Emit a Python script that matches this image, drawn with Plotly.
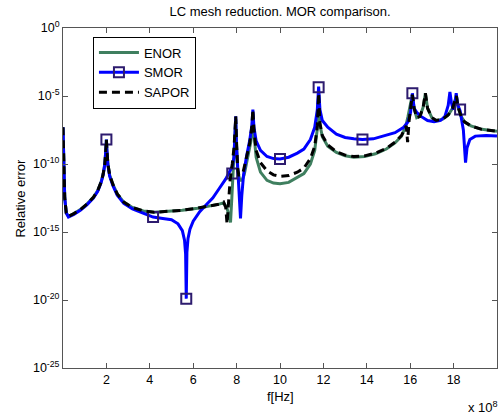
import plotly.graph_objects as go

# frequencies in units of 1e8 Hz, errors as log10(relative error)
f_smor = [0.0, 0.03, 0.08, 0.15, 0.25, 0.5, 0.8, 1.1, 1.4, 1.6, 1.75, 1.85, 1.93, 1.98, 2.0, 2.02, 2.07, 2.15, 2.3, 2.5,
          2.8, 3.2, 3.7, 4.15, 4.6, 5.0, 5.3, 5.5, 5.6, 5.65, 5.68, 5.71, 5.76, 5.85, 6.0, 6.3, 6.6, 6.9, 7.2, 7.5,
          7.7, 7.8, 7.88, 7.93, 7.96, 7.99, 8.05, 8.12, 8.18, 8.24, 8.32, 8.45, 8.6, 8.7, 8.75, 8.8, 8.9, 9.1, 9.4, 9.7,
          10.0, 10.4, 10.8, 11.1, 11.4, 11.6, 11.72, 11.78, 11.84, 11.95, 12.2, 12.6, 13.0, 13.4, 13.8, 14.3, 14.8, 15.3, 15.7, 15.9,
          16.02, 16.1, 16.18, 16.3, 16.5, 16.8, 17.1, 17.4, 17.6, 17.75, 17.83, 17.9, 17.98, 18.06, 18.12, 18.18, 18.3, 18.45, 18.55, 18.62,
          18.75, 19.0, 19.5, 20.0]
lg_smor = [-7.3, -10.0, -12.5, -13.6, -13.9, -13.7, -13.4, -13.0, -12.5, -12.0, -11.4, -10.8, -10.0, -8.8, -8.2, -8.9, -10.1, -10.9, -11.6, -12.3,
           -12.9, -13.3, -13.6, -13.9, -14.0, -14.1, -14.4, -14.9, -15.6, -16.6, -19.9, -16.5, -15.5, -14.8, -14.2, -13.5, -13.0, -12.5, -11.8, -11.1,
           -10.5, -10.2, -9.5, -8.0, -6.5, -8.5, -10.5, -12.5, -14.0, -12.3, -10.8, -9.5, -8.3, -7.2, -6.0, -7.3, -8.3, -9.0, -9.45, -9.6,
           -9.63, -9.5, -9.2, -8.9, -8.2, -7.3, -6.0, -4.3, -6.0, -6.8, -7.3, -7.8, -8.05, -8.15, -8.2, -8.15, -7.95, -7.7, -7.3, -6.9,
           -6.2, -4.8, -5.9, -6.2, -6.5, -6.8, -6.9, -6.8, -6.5, -5.7, -4.7, -5.5, -6.0, -5.6, -4.8, -5.6, -6.1, -7.5, -9.9, -8.8,
           -8.2, -7.95, -7.9, -7.95]

f_smor_mk = [2.0, 4.15, 5.68, 7.8, 10.0, 11.78, 13.8, 16.1, 18.3]
lg_smor_mk = [-8.2, -13.9, -19.9, -10.7, -9.63, -4.36, -8.2, -4.8, -6.0]

f_sapor = [0.0, 0.03, 0.08, 0.15, 0.25, 0.5, 0.8, 1.1, 1.4, 1.6, 1.75, 1.85, 1.93, 1.98, 2.0, 2.02, 2.07, 2.15, 2.3, 2.5,
           2.8, 3.2, 3.7, 4.2, 4.8, 5.5, 6.2, 6.8, 7.2, 7.4, 7.5, 7.56, 7.62, 7.7, 7.8, 7.88, 7.93, 7.96, 8.0, 8.05,
           8.1, 8.2, 8.3, 8.45, 8.6, 8.7, 8.75, 8.8, 8.9, 9.1, 9.4, 9.7, 10.0, 10.4, 10.8, 11.1, 11.4, 11.6, 11.72, 11.78,
           11.84, 11.95, 12.2, 12.6, 13.0, 13.4, 13.9, 14.4, 14.9, 15.3, 15.6, 15.82, 15.88, 15.95, 16.05, 16.1, 16.18, 16.3, 16.45, 16.6,
           16.7, 16.8, 17.0, 17.2, 17.5, 17.75, 17.95, 18.08, 18.13, 18.2, 18.35, 18.5, 18.8, 19.3, 20.0]
lg_sapor = [-7.3, -10.0, -12.5, -13.6, -13.85, -13.65, -13.35, -12.95, -12.45, -11.95, -11.35, -10.75, -9.95, -8.8, -8.2, -8.9, -10.0, -10.8, -11.5, -12.2,
            -12.8, -13.2, -13.45, -13.55, -13.5, -13.4, -13.25, -13.1, -12.95, -12.8, -13.2, -14.4, -12.8, -11.2, -10.0, -8.8, -7.5, -6.5, -8.5, -10.3,
            -10.8, -10.8, -10.6, -9.6, -8.5, -7.3, -6.0, -7.5, -9.0, -9.9, -10.5, -10.8, -10.9, -10.85, -10.6, -10.3, -9.6, -8.7, -7.2, -4.8,
            -7.0, -7.9, -8.6, -9.1, -9.35, -9.45, -9.4, -9.2, -8.85, -8.4, -7.9, -7.2, -8.4, -6.8, -5.6, -4.9, -5.9, -6.6, -6.5, -5.8,
            -4.8, -5.9, -6.6, -6.8, -6.7, -6.4, -5.9, -5.3, -5.0, -5.8, -6.5, -6.9, -7.2, -7.45, -7.6]

f_enor = [0.0, 0.03, 0.08, 0.15, 0.25, 0.5, 0.8, 1.1, 1.4, 1.6, 1.75, 1.85, 1.93, 1.98, 2.0, 2.02, 2.07, 2.15, 2.3, 2.5,
          2.8, 3.2, 3.7, 4.2, 4.8, 5.5, 6.2, 6.8, 7.2, 7.4, 7.55, 7.65, 7.72, 7.78, 7.85, 7.92, 7.96, 8.0, 8.05, 8.15,
          8.25, 8.35, 8.5, 8.65, 8.72, 8.75, 8.8, 8.9, 9.1, 9.4, 9.7, 10.0, 10.4, 10.8, 11.1, 11.4, 11.6, 11.72, 11.78, 11.84,
          11.95, 12.2, 12.6, 13.0, 13.4, 13.9, 14.4, 14.9, 15.3, 15.6, 15.8, 15.9, 16.0, 16.1, 16.18, 16.3, 16.45, 16.6, 16.7, 16.8,
          17.0, 17.2, 17.5, 17.75, 17.95, 18.08, 18.13, 18.2, 18.35, 18.5, 18.8, 19.3, 20.0]
lg_enor = [-7.3, -10.0, -12.5, -13.6, -13.85, -13.65, -13.35, -12.95, -12.45, -11.95, -11.35, -10.75, -9.95, -8.8, -8.2, -8.9, -10.0, -10.8, -11.5, -12.2,
           -12.8, -13.2, -13.45, -13.55, -13.5, -13.4, -13.25, -13.1, -12.95, -12.85, -13.2, -13.8, -14.3, -12.5, -10.5, -8.0, -6.7, -8.7, -10.5, -11.2,
           -11.2, -10.8, -9.7, -8.4, -7.5, -6.3, -7.8, -9.5, -10.6, -11.2, -11.4, -11.45, -11.35, -11.0, -10.7, -10.0, -9.0, -7.4, -4.9, -7.1,
           -8.0, -8.7, -9.15, -9.4, -9.5, -9.45, -9.25, -8.9, -8.45, -7.95, -7.2, -6.5, -5.8, -4.9, -5.9, -6.6, -6.5, -5.8, -4.8, -5.9,
           -6.6, -6.8, -6.7, -6.4, -5.9, -5.3, -5.0, -5.8, -6.5, -6.9, -7.2, -7.45, -7.6]

x_ticks = [2, 4, 6, 8, 10, 12, 14, 16, 18]
y_exps = [0, -5, -10, -15, -20, -25]

GREEN = "#3f7f5f"
BLUE = "#0000ff"
MK = "#2d1b6e"
FONT = "Liberation Sans"


def lin(vals):
    return [10 ** v for v in vals]


fig = go.Figure()
fig.add_trace(go.Scatter(x=f_enor, y=lin(lg_enor), mode="lines", name="ENOR",
                         line=dict(color=GREEN, width=3), showlegend=False))
fig.add_trace(go.Scatter(x=f_smor, y=lin(lg_smor), mode="lines", name="SMOR",
                         line=dict(color=BLUE, width=3), showlegend=False))
fig.add_trace(go.Scatter(x=f_smor_mk, y=lin(lg_smor_mk), mode="markers", name="SMOR",
                         marker=dict(symbol="square-open", size=10, color=MK, line=dict(width=2, color=MK)),
                         showlegend=False))
fig.add_trace(go.Scatter(x=f_sapor, y=lin(lg_sapor), mode="lines", name="SAPOR",
                         line=dict(color="black", width=3, dash="8px,5px"), showlegend=False))

# legend entries
fig.add_trace(go.Scatter(x=[None], y=[None], mode="lines", name="ENOR",
                         line=dict(color=GREEN, width=3)))
fig.add_trace(go.Scatter(x=[None], y=[None], mode="lines+markers", name="SMOR",
                         line=dict(color=BLUE, width=3),
                         marker=dict(symbol="square-open", size=10, color=MK, line=dict(width=2, color=MK))))
fig.add_trace(go.Scatter(x=[None], y=[None], mode="lines", name="SAPOR",
                         line=dict(color="black", width=3, dash="8px,5px")))

axis_common = dict(showgrid=False, zeroline=False, ticks="inside", ticklen=5, tickcolor="#555",
                   showline=True, linecolor="#555", linewidth=1, mirror="ticks",
                   tickfont=dict(family=FONT, size=12.5, color="black"))

fig.update_xaxes(range=[0, 20], tickvals=x_ticks, ticktext=[str(t) for t in x_ticks], **axis_common)
fig.update_yaxes(type="log", range=[-25, 0], tickvals=[10 ** e for e in y_exps],
                 ticktext=["10<sup>%d</sup>" % e for e in y_exps], **axis_common)

fig.update_layout(
    width=502, height=415,
    margin=dict(l=63, r=5, t=28, b=47),
    paper_bgcolor="white", plot_bgcolor="white",
    font=dict(family=FONT, size=12.5, color="black"),
    title=dict(text="LC mesh reduction. MOR comparison.", x=0.558, xanchor="center",
               y=0.972, yanchor="middle", yref="container", font=dict(family=FONT, size=13)),
    legend=dict(x=0.069, y=0.975, xanchor="left", yanchor="top", bgcolor="white",
                bordercolor="black", borderwidth=1, font=dict(family=FONT, size=13),
                tracegroupgap=0, itemwidth=40),
    annotations=[
        dict(text="f[Hz]", xref="paper", yref="paper", x=0.5, y=-0.083, xanchor="center", yanchor="middle",
             showarrow=False, font=dict(family=FONT, size=13)),
        dict(text="x 10<sup>8</sup>", xref="paper", yref="paper", x=1.007, y=-0.115, xanchor="right",
             yanchor="middle", showarrow=False, font=dict(family=FONT, size=13)),
        dict(text="Relative error", xref="paper", yref="paper", x=-0.1, y=0.5, xanchor="center",
             yanchor="middle", textangle=-90, showarrow=False, font=dict(family=FONT, size=13)),
    ],
)

fig.write_html("out.html", config={"displayModeBar": False},
               post_script="document.body.style.margin='0';document.body.style.overflow='hidden';")
